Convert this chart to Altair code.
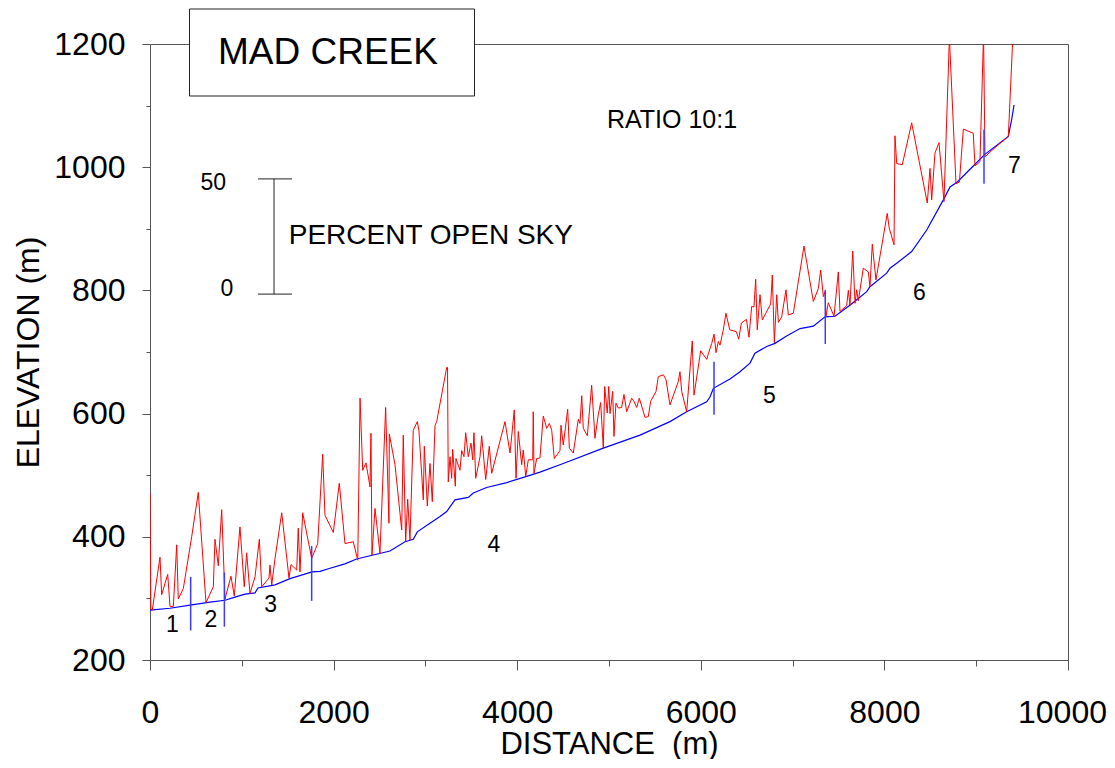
import altair as alt
import pandas as pd

FONT = "Liberation Sans"

# ---- Data ----
# Red line: elevation + percent open sky (m)
red_d = [0, 10, 25, 109, 127, 193, 218, 254, 291, 308,
         363, 454, 526, 610, 690, 708, 744, 781, 817, 882,
         918, 980, 1027, 1053, 1089, 1144, 1191, 1217, 1296, 1307,
         1326, 1362, 1435, 1514, 1536, 1598, 1615, 1634, 1663, 1761,
         1827, 1881, 1906, 1997, 2062, 2124, 2215, 2263, 2288, 2317,
         2353, 2397, 2407, 2418, 2451, 2505, 2567, 2603, 2607, 2669,
         2742, 2759, 2785, 2807, 2832, 2868, 2912, 2930, 2977, 2988,
         3021, 3050, 3075, 3105, 3123, 3232, 3241, 3249, 3268, 3286,
         3297, 3326, 3333, 3377, 3395, 3420, 3439, 3467, 3497, 3515,
         3529, 3548, 3595, 3613, 3657, 3696, 3722, 3867, 3922, 3968,
         3987, 4012, 4049, 4066, 4093, 4121, 4169, 4175, 4183, 4212,
         4248, 4284, 4321, 4350, 4376, 4404, 4466, 4477, 4502, 4550,
         4568, 4611, 4666, 4684, 4703, 4720, 4764, 4811, 4847, 4883,
         4909, 4938, 4953, 4981, 4997, 5011, 5040, 5054, 5076, 5101,
         5138, 5163, 5193, 5247, 5272, 5301, 5330, 5392, 5428, 5454,
         5512, 5537, 5592, 5621, 5664, 5755, 5773, 5792, 5846, 5907,
         5926, 5999, 6064, 6082, 6119, 6144, 6166, 6191, 6209, 6245,
         6274, 6315, 6387, 6413, 6442, 6497, 6525, 6554, 6579, 6598,
         6615, 6645, 6670, 6761, 6779, 6801, 6827, 6845, 6881, 6928,
         6953, 7008, 7124, 7226, 7280, 7306, 7335, 7353, 7364, 7389,
         7451, 7498, 7516, 7589, 7607, 7625, 7655, 7680, 7698, 7716,
         7770, 7825, 7843, 7868, 7908, 8031, 8053, 8105, 8115, 8134,
         8195, 8297, 8467, 8497, 8515, 8551, 8595, 8649, 8708, 8780,
         8817, 8860, 8968, 8987, 9041, 9080, 9096, 9215, 9350, 9405]
red_e = [471, 282, 281, 367, 306, 339, 287, 287, 387, 299,
         316, 400, 472, 293, 319, 396, 353, 444, 299, 336,
         304, 416, 319, 374, 308, 335, 396, 319, 333, 354,
         322, 365, 439, 333, 355, 346, 414, 343, 439, 365,
         389, 534, 435, 407, 487, 389, 392, 362, 625, 508,
         520, 481, 568, 370, 446, 373, 610, 422, 567, 517,
         411, 565, 392, 461, 395, 573, 587, 572, 460, 547,
         450, 519, 457, 581, 587, 675, 675, 489, 530, 495,
         542, 482, 527, 508, 540, 530, 569, 530, 552, 525,
         569, 495, 530, 564, 493, 547, 503, 587, 536, 606,
         495, 571, 517, 541, 498, 525, 525, 603, 503, 527,
         528, 596, 576, 584, 573, 527, 540, 581, 549, 607,
         544, 536, 591, 584, 629, 576, 564, 646, 560, 598,
         618, 544, 644, 601, 644, 600, 636, 563, 617, 609,
         610, 631, 603, 625, 620, 610, 625, 594, 595, 620,
         636, 660, 663, 655, 614, 652, 668, 636, 603, 718,
         630, 702, 688, 697, 714, 729, 699, 717, 711, 736,
         763, 736, 733, 721, 747, 753, 724, 774, 773, 818,
         736, 793, 752, 778, 825, 715, 793, 748, 757, 801,
         760, 763, 872, 782, 803, 833, 790, 798, 758, 780,
         758, 830, 766, 775, 800, 776, 864, 779, 801, 783,
         836, 830, 806, 875, 817, 925, 901, 874, 1051, 1006,
         1004, 1072, 942, 998, 947, 1023, 1040, 944, 1210, 973,
         976, 1062, 1055, 1002, 1009, 1215, 1017, 1033, 1050, 1230]

# Blue line: stream bed elevation (m)
blue_d = [0, 218, 436, 654, 817, 926, 1035, 1144, 1176, 1362,
          1525, 1765, 1852, 1961, 2124, 2250, 2614, 2778, 2868, 2912,
          3050, 3159, 3232, 3322, 3467, 3522, 3667, 3886, 4103, 4248,
          4502, 4938, 5338, 5664, 5846, 6064, 6100, 6137, 6318, 6427,
          6536, 6590, 6718, 6808, 6935, 7081, 7226, 7353, 7462, 7625,
          7807, 7843, 8025, 8061, 8134, 8297, 8461, 8642, 8715, 8794,
          8968, 9088, 9350, 9386, 9412]
blue_e = [281, 284, 289, 294, 297, 302, 307, 309, 317, 322,
          332, 343, 344, 349, 356, 364, 377, 392, 396, 408,
          422, 433, 441, 460, 464, 471, 480, 488, 498, 505,
          519, 544, 565, 587, 603, 619, 627, 641, 656, 668,
          682, 698, 709, 714, 726, 738, 742, 757, 758, 776,
          798, 806, 828, 836, 844, 863, 898, 947, 968, 976,
          1002, 1020, 1050, 1077, 1101]

# Section boundary markers
marker_d = [443, 810, 1761, 6144, 7356, 9085]
marker_lo = [248, 254, 296, 598, 713, 973]
marker_hi = [335, 342, 385, 684, 801, 1061]

# Section numbers
sec_label = ["1", "2", "3", "4", "5", "6", "7"]
sec_d = [245, 664, 1313, 3747, 6748, 8382, 9417]
sec_e = [245, 254, 278, 376, 617, 784, 990]

# Percent-open-sky scale bar
bar_d = [1351]
bar_top = [981]
bar_bottom = [794]
cap_d0 = [1176, 1176]
cap_d1 = [1547, 1547]
cap_e = [981, 794]
bar_labels = ["50", "0"]
bar_label_d = [828, 908]
bar_label_e = [963, 791]

x_ticks = list(range(0, 10001, 1000))
y_ticks = list(range(200, 1201, 100))

# ---- Tables ----
red_df = pd.DataFrame({"d": red_d, "e": red_e})
blue_df = pd.DataFrame({"d": blue_d, "e": blue_e})
marker_df = pd.DataFrame({"d": marker_d, "lo": marker_lo, "hi": marker_hi})
sec_df = pd.DataFrame({"t": sec_label, "d": sec_d, "e": sec_e})
bar_df = pd.DataFrame({"d": bar_d, "top": bar_top, "bot": bar_bottom})
cap_df = pd.DataFrame({"d0": cap_d0, "d1": cap_d1, "e": cap_e})
barlab_df = pd.DataFrame({"t": bar_labels, "d": bar_label_d, "e": bar_label_e})
one = pd.DataFrame({"k": [0]})

xs = alt.Scale(domain=[0, 10000], nice=False, zero=False)
ys = alt.Scale(domain=[200, 1200], nice=False, zero=False)

AX = "#555555"
x_axis = alt.Axis(
    values=x_ticks, format="d",
    labelExpr="datum.value % 2000 === 0 ? datum.label : ''",
    tickSize={"condition": {"test": "datum.value % 2000 === 0", "value": 10}, "value": 6},
    labelOffset={"condition": {"test": "datum.value === 10000", "value": -6}, "value": 0},
    labelPadding=27, labelFontSize=32, labelFont=FONT, labelColor="black",
    labelFlush=False, labelOverlap=False,
    domainColor=AX, tickColor=AX, grid=False,
    title="DISTANCE\u00a0 (m)", titleFontSize=31, titleFont=FONT,
    titleFontWeight="normal", titleColor="black",
    titleY=93, titleBaseline="alphabetic",
)
y_axis = alt.Axis(
    values=y_ticks, format="d",
    labelExpr="datum.value % 200 === 0 ? datum.label : ''",
    tickSize={"condition": {"test": "datum.value % 200 === 0", "value": 8}, "value": 4},
    labelPadding=17, labelFontSize=32, labelFont=FONT, labelColor="black",
    labelFlush=False, labelOverlap=False,
    domainColor=AX, tickColor=AX, grid=False,
    title="ELEVATION (m)", titleFontSize=32, titleFont=FONT,
    titleFontWeight="normal", titleColor="black",
    titleX=-112, titleY=308, titleAngle=270, titleAlign="center",
    titleBaseline="alphabetic",
)

X = lambda f: alt.X(f, type="quantitative", scale=xs, axis=x_axis)
Y = lambda f: alt.Y(f, type="quantitative", scale=ys, axis=y_axis)

blue = alt.Chart(blue_df).mark_line(color="#0000ff", strokeWidth=1.2).encode(
    x=X("d"), y=Y("e"), order="d:Q")
red = alt.Chart(red_df).mark_line(color="#ff0000", strokeWidth=1, clip=True).encode(
    x=X("d"), y=Y("e"), order=alt.Order("d:Q"))
markers = alt.Chart(marker_df).mark_rule(color="#3a3aff", strokeWidth=1.5).encode(
    x=X("d"), y=Y("lo"), y2="hi")
secs = alt.Chart(sec_df).mark_text(fontSize=23, font=FONT, color="black",
                                   align="center", baseline="alphabetic").encode(
    x=X("d"), y=Y("e"), text="t")
bar = alt.Chart(bar_df).mark_rule(color="#222222", strokeWidth=1).encode(
    x=X("d"), y=Y("top"), y2="bot")
caps = alt.Chart(cap_df).mark_rule(color="#222222", strokeWidth=1).encode(
    x=X("d0"), x2="d1", y=Y("e"))
barlab = alt.Chart(barlab_df).mark_text(fontSize=23, font=FONT, color="black",
                                        align="right", baseline="alphabetic").encode(
    x=X("d"), y=Y("e"), text="t")
pos_lab = alt.Chart(pd.DataFrame({"t": ["PERCENT OPEN SKY"], "d": [1511], "e": [875]})).mark_text(
    fontSize=28, font=FONT, color="black", align="left", baseline="alphabetic").encode(
    x=X("d"), y=Y("e"), text="t")
ratio = alt.Chart(pd.DataFrame({"t": ["RATIO 10:1"], "d": [4978], "e": [1063]})).mark_text(
    fontSize=25, font=FONT, color="black", align="left", baseline="alphabetic").encode(
    x=X("d"), y=Y("e"), text="t")

box = alt.Chart(one).mark_rect(fill="white", stroke="#222222", strokeWidth=1).encode(
    x=alt.value(39.5), x2=alt.value(324.5), y=alt.value(-35), y2=alt.value(52))
title = alt.Chart(one).mark_text(text="MAD CREEK", fontSize=37, font=FONT, color="black",
                                 align="left", baseline="alphabetic").encode(
    x=alt.value(68), y=alt.value(19.5))

chart = alt.layer(blue, red, markers, secs, bar, caps, barlab, pos_lab, ratio, box, title).properties(
    width=918, height=616,
    autosize=alt.AutoSizeParams(type="none"),
    padding={"left": 142, "top": 36, "right": 39, "bottom": 99},
    background="white",
).configure_view(stroke=AX, strokeWidth=1)

chart.save("out.html", embed_options={"renderer": "svg", "actions": False})
